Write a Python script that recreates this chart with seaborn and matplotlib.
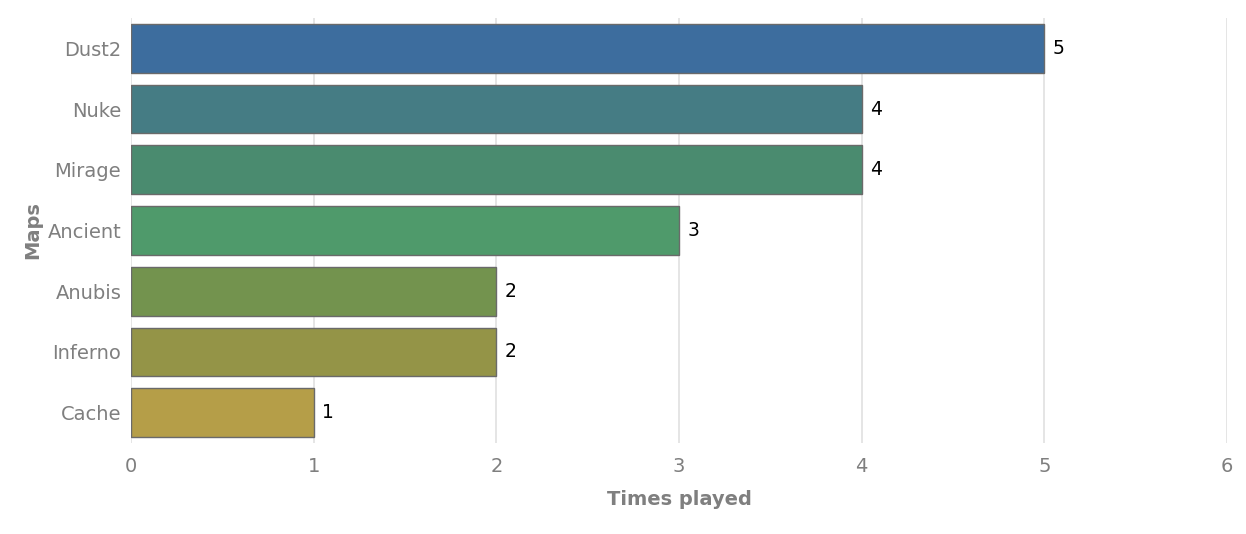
import numpy as np
import pandas as pd
import seaborn as sns
import matplotlib.pyplot as plt

maps = ["Dust2", "Nuke", "Mirage", "Ancient", "Anubis", "Inferno", "Cache"]
times_played = [5, 4, 4, 3, 2, 2, 1]
bar_colors = ["#3D6D9E", "#457C84", "#4A8B6F", "#4F9A6B", "#73934E", "#949447", "#B59E48"]
x_ticks = [0, 1, 2, 3, 4, 5, 6]

df = pd.DataFrame({"Maps": maps, "Times played": times_played})

sns.set_theme(style="white")
plt.rcParams["font.family"] = ["DejaVu Sans"]

fig = plt.figure(figsize=(12.46, 5.34), dpi=100)
ax = fig.add_axes([0.1051, 0.1704, 0.8797, 0.7959])

sns.barplot(
    data=df, x="Times played", y="Maps", hue="Maps",
    palette=bar_colors, order=maps, hue_order=maps, saturation=1,
    orient="h", width=0.8, edgecolor="#6a6a6a", linewidth=1.0,
    legend=False, ax=ax, zorder=3,
)

for p, v in zip(ax.patches, times_played):
    ax.annotate(str(v), (p.get_width(), p.get_y() + p.get_height() / 2),
                xytext=(6, 0), textcoords="offset points",
                ha="left", va="center", fontsize=13.5, color="black")

ax.set_xlim(0, 6)
ax.set_ylim(6.5, -0.5)
ax.set_xticks(x_ticks)
ax.grid(axis="x", color="#e3e3e3", linewidth=1.3, zorder=0)
ax.grid(axis="y", visible=False)
for s in ax.spines.values():
    s.set_visible(False)

ax.tick_params(axis="both", colors="#7f7f7f", labelsize=14, length=0)
ax.tick_params(axis="y", pad=7)
ax.tick_params(axis="x", pad=10)
ax.set_xlabel("Times played", fontsize=14, fontweight="bold", color="#7f7f7f", labelpad=10)
ax.set_ylabel("Maps", fontsize=14, fontweight="bold", color="#7f7f7f", labelpad=4)

fig.savefig("out.png", dpi=100)
